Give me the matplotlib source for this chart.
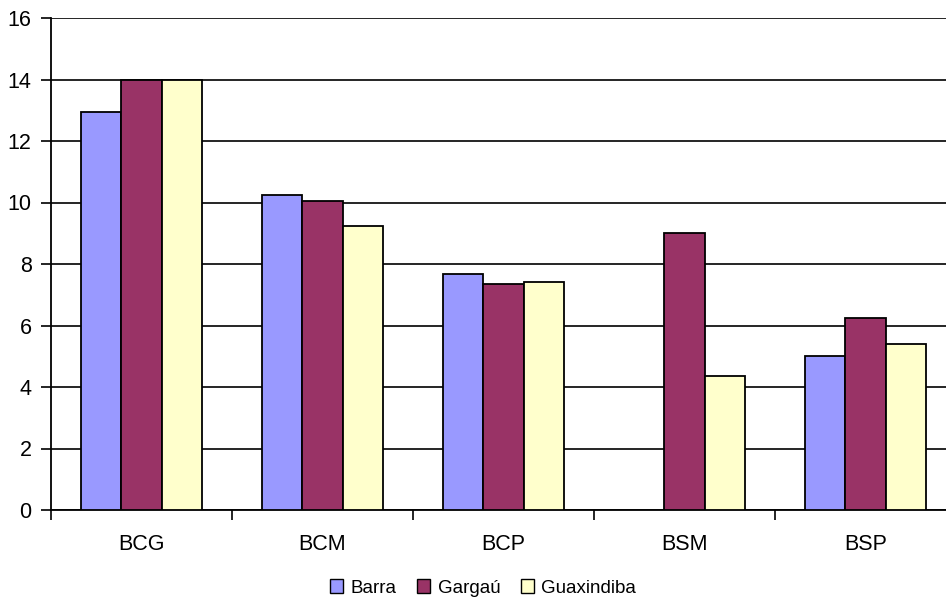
import numpy as np
import matplotlib
matplotlib.use("Agg")
import matplotlib.pyplot as plt

# data
categories = ["BCG", "BCM", "BCP", "BSM", "BSP"]
barra = [12.95, 10.25, 7.67, 0.0, 5.0]
gargau = [14.0, 10.05, 7.35, 9.0, 6.25]
guaxindiba = [14.0, 9.25, 7.41, 4.36, 5.41]
series_names = ["Barra", "Gargaú", "Guaxindiba"]
colors = ["#9999FF", "#993366", "#FFFFCC"]

plt.rcParams['font.family'] = ['Liberation Sans', 'DejaVu Sans']

fig = plt.figure(figsize=(9.46, 5.98), dpi=100)
ax = fig.add_axes([51 / 946, 88 / 598, 905 / 946, 492 / 598])

x = np.arange(len(categories))
w = 0.222
for i, (vals, name, col) in enumerate(zip([barra, gargau, guaxindiba], series_names, colors)):
    xs = x + (i - 1) * w
    # skip missing values (Barra has no BSM bar)
    mask = np.array(vals) > 0
    ax.bar(xs[mask], np.array(vals)[mask], width=w, color=col, edgecolor="black",
           linewidth=1.3, label=name, zorder=3)

ax.set_xlim(-0.5, len(categories) - 0.5)
ax.set_ylim(0, 16)
ax.set_yticks(np.arange(0, 17, 2))
ax.yaxis.grid(True, color="black", linewidth=1.2, zorder=0)
ax.set_axisbelow(True)

# x ticks at category boundaries, labels at centres
ax.set_xticks(np.arange(-0.5, len(categories) - 0.4, 1.0))
ax.set_xticklabels([])
ax.set_xticks(x, minor=True)
ax.set_xticklabels(categories, minor=True)
ax.tick_params(axis="x", which="major", length=7, width=1.2, direction="out")
ax.tick_params(axis="x", which="minor", length=0, pad=17, labelsize=15.5)
ax.tick_params(axis="y", length=7, width=1.2, pad=7, labelsize=15.5)

for s in ["top", "right"]:
    ax.spines[s].set_visible(False)
for s in ["left", "bottom"]:
    ax.spines[s].set_linewidth(1.3)

leg = fig.legend(loc="center", bbox_to_anchor=(483 / 946, 10 / 598), ncol=3, frameon=False,
                 fontsize=13.5, handlelength=0.7, handleheight=0.7, handletextpad=0.4,
                 columnspacing=1.1, borderpad=0.1)
for h in leg.legend_handles:
    h.set_linewidth(1.0)

fig.savefig("out.png", dpi=100)
